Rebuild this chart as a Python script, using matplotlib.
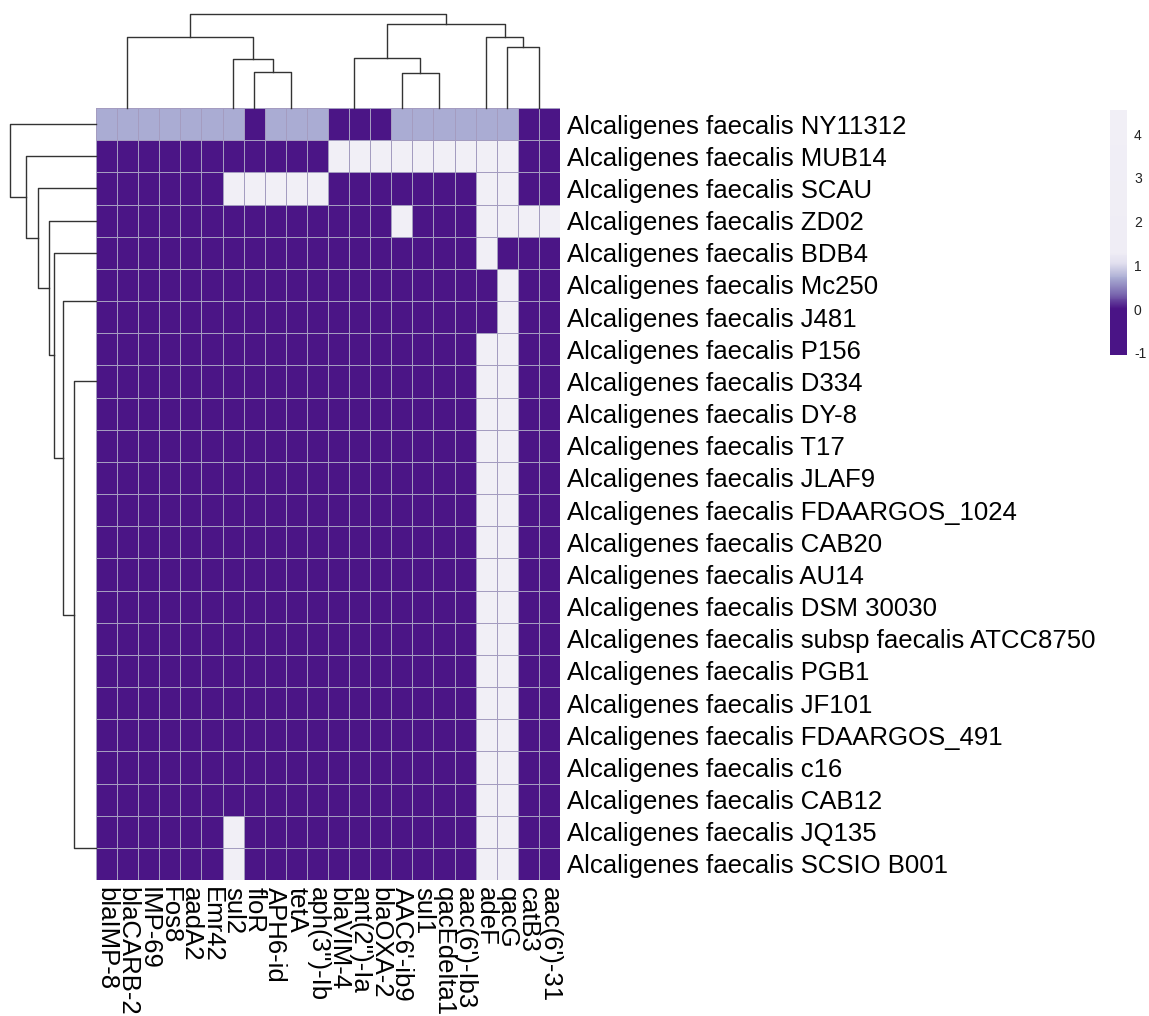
import matplotlib
matplotlib.use('Agg')
import matplotlib.pyplot as plt
import numpy as np
from matplotlib.colors import LinearSegmentedColormap, Normalize
from matplotlib.cm import ScalarMappable

plt.rcParams['font.family'] = ['Liberation Sans', 'DejaVu Sans']
plt.rcParams['axes.unicode_minus'] = False

W, H = 1149, 1016

genes = ['blaIMP-8', 'blaCARB-2', 'IMP-69', 'Fos8', 'aadA2', 'Emr42', 'sul2',
         'floR', 'APH6-id', 'tetA', "aph(3'')-Ib", 'blaVIM-4', "ant(2'')-Ia",
         'blaOXA-2', "AAC6'-ib9", 'sul1', 'qacEdelta1', "aac(6')-Ib3", 'adeF',
         'qacG', 'catB3', "aac(6')-31"]

strains = ['NY11312', 'MUB14', 'SCAU', 'ZD02', 'BDB4', 'Mc250', 'J481', 'P156',
           'D334', 'DY-8', 'T17', 'JLAF9', 'FDAARGOS_1024', 'CAB20', 'AU14',
           'DSM 30030', 'subsp faecalis ATCC8750', 'PGB1', 'JF101',
           'FDAARGOS_491', 'c16', 'CAB12', 'JQ135', 'SCSIO B001']

# one row per strain, one value per gene (display order)
values = [
    [.7, .7, .7, .7, .7, .7, .7, 0, .7, .7, .7, 0, 0, 0, .7, .7, .7, .7, .7, .7, 0, 0],
    [0, 0, 0, 0, 0, 0, 0, 0, 0, 0, 0, 4, 4, 4, 4, 4, 4, 4, 4, 4, 0, 0],
    [0, 0, 0, 0, 0, 0, 4, 4, 4, 4, 4, 0, 0, 0, 0, 0, 0, 0, 4, 4, 0, 0],
    [0, 0, 0, 0, 0, 0, 0, 0, 0, 0, 0, 0, 0, 0, 4, 0, 0, 0, 4, 4, 4, 4],
    [0, 0, 0, 0, 0, 0, 0, 0, 0, 0, 0, 0, 0, 0, 0, 0, 0, 0, 4, 0, 0, 0],
    [0, 0, 0, 0, 0, 0, 0, 0, 0, 0, 0, 0, 0, 0, 0, 0, 0, 0, 0, 4, 0, 0],
    [0, 0, 0, 0, 0, 0, 0, 0, 0, 0, 0, 0, 0, 0, 0, 0, 0, 0, 0, 4, 0, 0],
    [0, 0, 0, 0, 0, 0, 0, 0, 0, 0, 0, 0, 0, 0, 0, 0, 0, 0, 4, 4, 0, 0],
    [0, 0, 0, 0, 0, 0, 0, 0, 0, 0, 0, 0, 0, 0, 0, 0, 0, 0, 4, 4, 0, 0],
    [0, 0, 0, 0, 0, 0, 0, 0, 0, 0, 0, 0, 0, 0, 0, 0, 0, 0, 4, 4, 0, 0],
    [0, 0, 0, 0, 0, 0, 0, 0, 0, 0, 0, 0, 0, 0, 0, 0, 0, 0, 4, 4, 0, 0],
    [0, 0, 0, 0, 0, 0, 0, 0, 0, 0, 0, 0, 0, 0, 0, 0, 0, 0, 4, 4, 0, 0],
    [0, 0, 0, 0, 0, 0, 0, 0, 0, 0, 0, 0, 0, 0, 0, 0, 0, 0, 4, 4, 0, 0],
    [0, 0, 0, 0, 0, 0, 0, 0, 0, 0, 0, 0, 0, 0, 0, 0, 0, 0, 4, 4, 0, 0],
    [0, 0, 0, 0, 0, 0, 0, 0, 0, 0, 0, 0, 0, 0, 0, 0, 0, 0, 4, 4, 0, 0],
    [0, 0, 0, 0, 0, 0, 0, 0, 0, 0, 0, 0, 0, 0, 0, 0, 0, 0, 4, 4, 0, 0],
    [0, 0, 0, 0, 0, 0, 0, 0, 0, 0, 0, 0, 0, 0, 0, 0, 0, 0, 4, 4, 0, 0],
    [0, 0, 0, 0, 0, 0, 0, 0, 0, 0, 0, 0, 0, 0, 0, 0, 0, 0, 4, 4, 0, 0],
    [0, 0, 0, 0, 0, 0, 0, 0, 0, 0, 0, 0, 0, 0, 0, 0, 0, 0, 4, 4, 0, 0],
    [0, 0, 0, 0, 0, 0, 0, 0, 0, 0, 0, 0, 0, 0, 0, 0, 0, 0, 4, 4, 0, 0],
    [0, 0, 0, 0, 0, 0, 0, 0, 0, 0, 0, 0, 0, 0, 0, 0, 0, 0, 4, 4, 0, 0],
    [0, 0, 0, 0, 0, 0, 0, 0, 0, 0, 0, 0, 0, 0, 0, 0, 0, 0, 4, 4, 0, 0],
    [0, 0, 0, 0, 0, 0, 4, 0, 0, 0, 0, 0, 0, 0, 0, 0, 0, 0, 4, 4, 0, 0],
    [0, 0, 0, 0, 0, 0, 4, 0, 0, 0, 0, 0, 0, 0, 0, 0, 0, 0, 4, 4, 0, 0],
]

# linkage in display order: (left, right, height); ids >= n are earlier merges
col_link = [
    (4, 5, 0), (3, 22, 0), (2, 23, 0), (1, 24, 0), (0, 25, 0),
    (9, 10, 0), (8, 27, 0), (12, 13, 0), (11, 29, 0),
    (16, 17, 0), (15, 31, 0), (20, 21, 0),
    (7, 28, 0.77), (6, 34, 1.04), (26, 35, 1.50),
    (14, 32, 0.74), (30, 37, 1.07), (19, 33, 1.30), (18, 39, 1.50),
    (38, 40, 1.78), (36, 41, 2.00),
]

row_link = [
    (20, 21, 0), (19, 24, 0), (18, 25, 0), (17, 26, 0), (16, 27, 0),
    (15, 28, 0), (14, 29, 0), (13, 30, 0), (12, 31, 0), (11, 32, 0),
    (10, 33, 0), (9, 34, 0), (8, 35, 0), (7, 36, 0),
    (22, 23, 0), (5, 6, 0),
    (37, 38, 0.51), (39, 40, 0.77), (4, 41, 0.98), (3, 42, 1.09),
    (2, 43, 1.35), (1, 44, 1.63), (0, 45, 2.00),
]

cbar_ticks = [-1, 0, 1, 2, 3, 4]
vmin, vmax = -1.05, 4.55


def px_axes(fig, x0, y0, x1, y1):
    return fig.add_axes([x0 / W, 1 - y1 / H, (x1 - x0) / W, (y1 - y0) / H])


def dendro_segments(link, n):
    pos = [i + 0.5 for i in range(n)]
    hgt = [0.0] * n
    segs = []
    for a, b, h in link:
        if h > 0:
            segs.append(([pos[a], pos[a], pos[b], pos[b]], [hgt[a], h, h, hgt[b]]))
        pos.append((pos[a] + pos[b]) / 2)
        hgt.append(h)
    return segs, max(hgt)


nodes = [(-1.05, '#4a1486'), (0.0, '#4a1486'), (0.35, '#7b6ab0'),
         (0.7, '#a9abd2'), (1.05, '#e2e0ef'), (1.3, '#efedf5'), (4.55, '#f1eff6')]
cmap = LinearSegmentedColormap.from_list(
    'purp', [((v - vmin) / (vmax - vmin), c) for v, c in nodes])
norm = Normalize(vmin, vmax)

fig = plt.figure(figsize=(W / 100, H / 100), dpi=100)

# heatmap
ax = px_axes(fig, 96, 108, 560, 880)
data = np.array(values)
ax.pcolormesh(data, cmap=cmap, norm=norm, edgecolors='#a49cc0', linewidth=0.65)
ax.set_xlim(0, len(genes))
ax.set_ylim(len(strains), 0)
for s in ax.spines.values():
    s.set_visible(False)
ax.set_xticks(np.arange(len(genes)) + 0.5)
ax.set_xticklabels(genes, rotation=270, fontsize=18.5, va='top', ha='center')
ax.yaxis.tick_right()
ax.set_yticks(np.arange(len(strains)) + 0.5)
ax.set_yticklabels(['Alcaligenes faecalis ' + s for s in strains], fontsize=18.5)
ax.tick_params(length=0, pad=5)

# column dendrogram
axc = px_axes(fig, 96, 9, 560, 108)
segs, top = dendro_segments(col_link, len(genes))
for xs, ys in segs:
    axc.plot(xs, ys, color='#333333', lw=1.0, clip_on=False)
axc.set_xlim(0, len(genes))
axc.set_ylim(0, top * 1.05)
axc.axis('off')

# row dendrogram
axr = px_axes(fig, 6, 108, 96, 880)
segs, top = dendro_segments(row_link, len(strains))
for ys, xs in segs:
    axr.plot(xs, ys, color='#333333', lw=1.0, clip_on=False)
axr.set_ylim(len(strains), 0)
axr.set_xlim(top * 1.05, 0)
axr.axis('off')

# legend
cax = px_axes(fig, 1110, 110, 1127, 355)
cb = fig.colorbar(ScalarMappable(norm=norm, cmap=cmap), cax=cax)
cb.outline.set_visible(False)
cb.set_ticks(cbar_ticks)
cb.ax.tick_params(length=0, pad=5, labelsize=10, labelcolor='#222222')

fig.savefig('out.png', dpi=100)
